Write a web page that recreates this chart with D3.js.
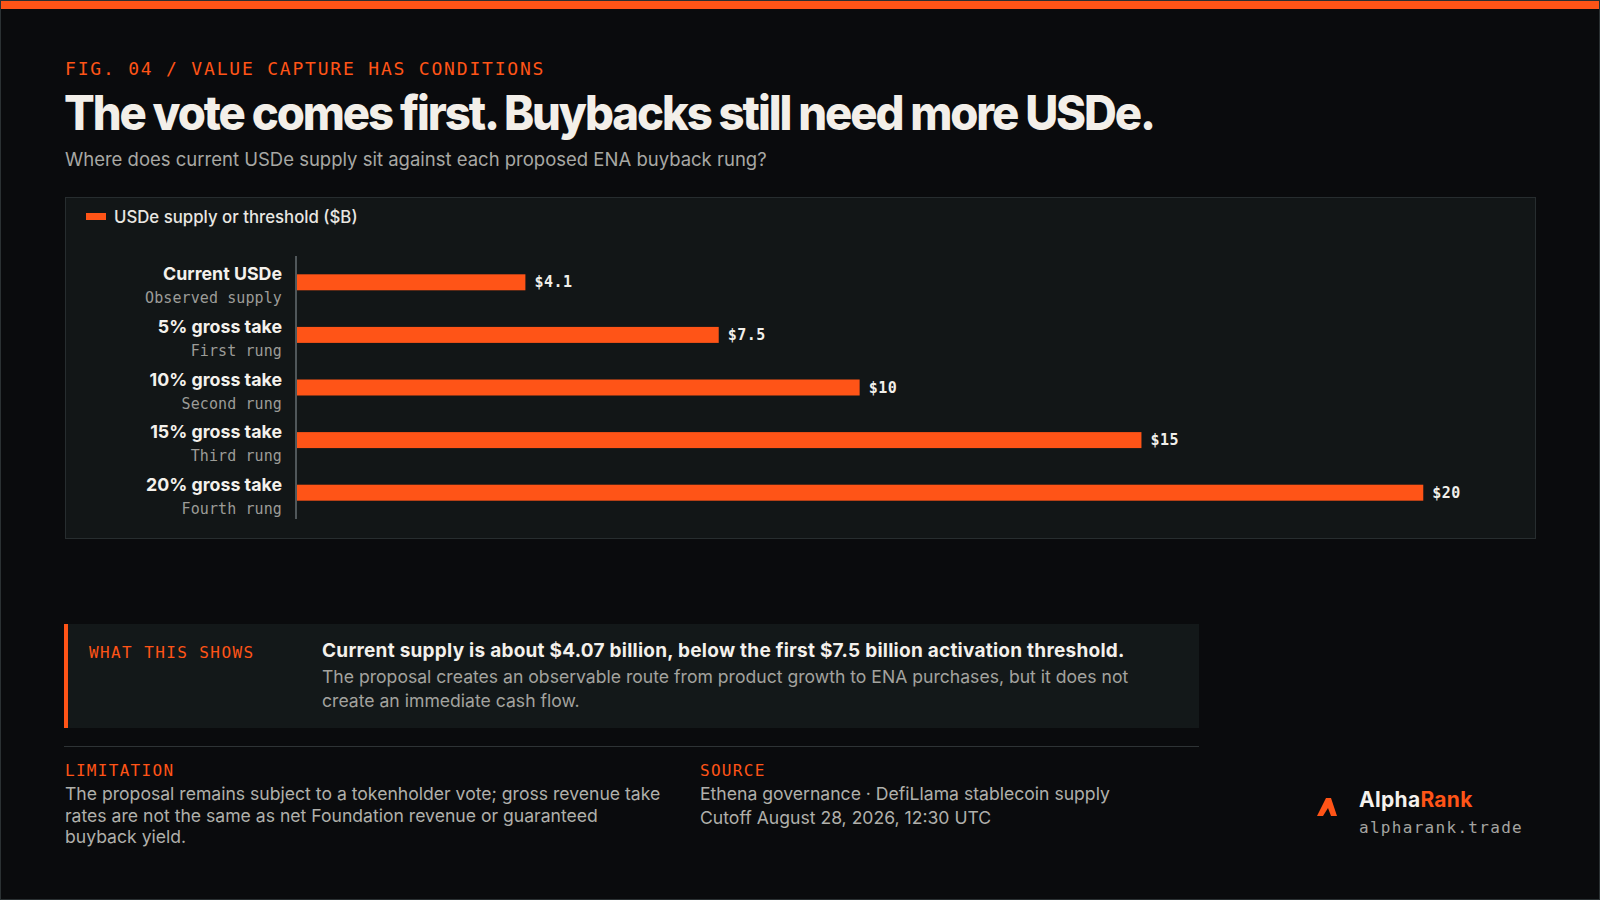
<!DOCTYPE html>
<html>
<head>
<meta charset="utf-8">
<script src="https://cdn.jsdelivr.net/npm/d3@7/dist/d3.min.js"></script>
<style>
  html, body { margin: 0; padding: 0; background: #0a0b0d; }
  svg { display: block; }
  .sans { font-family: Inter, "Noto Sans", sans-serif; }
  .mono { font-family: "DejaVu Sans Mono", "Liberation Mono", monospace; }
</style>
</head>
<body>
<svg id="chart" width="1600" height="900"></svg>
<script>
// ---- data ----
const categories = ["Current USDe", "5% gross take", "10% gross take", "15% gross take", "20% gross take"];
const subLabels = ["Observed supply", "First rung", "Second rung", "Third rung", "Fourth rung"];
const values = [4.07, 7.5, 10, 15, 20];
const legendLabel = "USDe supply or threshold ($B)";

const eyebrow = "FIG. 04 / VALUE CAPTURE HAS CONDITIONS";
const title = "The vote comes first. Buybacks still need more USDe.";
const subtitle = "Where does current USDe supply sit against each proposed ENA buyback rung?";
const calloutLabel = "WHAT THIS SHOWS";
const calloutHead = "Current supply is about $4.07 billion, below the first $7.5 billion activation threshold.";
const calloutBody = ["The proposal creates an observable route from product growth to ENA purchases, but it does not",
                     "create an immediate cash flow."];
const limitationLabel = "LIMITATION";
const limitationBody = ["The proposal remains subject to a tokenholder vote; gross revenue take",
                        "rates are not the same as net Foundation revenue or guaranteed",
                        "buyback yield."];
const sourceLabel = "SOURCE";
const sourceBody = ["Ethena governance · DefiLlama stablecoin supply", "Cutoff August 28, 2026, 12:30 UTC"];

// ---- styles ----
const ORANGE = "#ff5417";
const BG = "#0a0b0d";
const PANEL = "#121617";

const svg = d3.select("#chart");

svg.append("rect").attr("x", 0.5).attr("y", 0.5).attr("width", 1599).attr("height", 899)
  .attr("fill", BG).attr("stroke", "#2b3133");
svg.append("rect").attr("x", 1).attr("y", 1).attr("width", 1598).attr("height", 8).attr("fill", ORANGE);

// header
svg.append("text").attr("class", "mono").attr("x", 65).attr("y", 75)
  .attr("font-size", 18).attr("letter-spacing", 1.8).attr("fill", ORANGE).text(eyebrow);
const titleEl = svg.append("text").attr("class", "sans").attr("x", 64).attr("y", 130)
  .attr("font-size", 48).attr("font-weight", 800).attr("letter-spacing", -2.2)
  .attr("fill", "#f3efe9").text(title);
titleEl.attr("textLength", 1090).attr("lengthAdjust", "spacingAndGlyphs");
svg.append("text").attr("class", "sans").attr("x", 65).attr("y", 166)
  .attr("font-size", 18.5).attr("fill", "#a8a8a4").text(subtitle);

// panel
svg.append("rect").attr("x", 65.5).attr("y", 197.5).attr("width", 1470).attr("height", 341)
  .attr("fill", PANEL).attr("stroke", "#272d2f");

// legend
svg.append("rect").attr("x", 86).attr("y", 213).attr("width", 20).attr("height", 7).attr("fill", ORANGE);
svg.append("text").attr("class", "sans").attr("x", 114).attr("y", 223)
  .attr("font-size", 16.8).attr("font-weight", 500).attr("fill", "#e9e7e2").text(legendLabel);

// scales
const y = d3.scaleBand().domain(categories).range([256, 519]);
const x = d3.scaleLinear().domain([0, d3.max(values) * 1.1]).range([296, 1536]);
const barH = y.step() * 0.304;
const cy = c => y(c) + y.bandwidth() / 2;

const rows = categories.map((c, i) => ({ cat: c, sub: subLabels[i], v: values[i] }));

// bars
svg.append("g").selectAll("rect").data(rows).join("rect")
  .attr("x", x(0)).attr("y", d => cy(d.cat) - barH / 2)
  .attr("width", d => x(d.v) - x(0)).attr("height", barH)
  .attr("fill", ORANGE);

// axis line
svg.append("line").attr("x1", x(0)).attr("x2", x(0)).attr("y1", y.range()[0]).attr("y2", y.range()[1])
  .attr("stroke", "#50575a").attr("stroke-width", 2);

// value labels
const fmt = v => "$" + (Number.isInteger(v) ? v : d3.format(".1f")(v));
svg.append("g").selectAll("text").data(rows).join("text")
  .attr("class", "mono").attr("x", d => x(d.v) + 9).attr("y", d => cy(d.cat) + 5)
  .attr("font-size", 15).attr("letter-spacing", 0.5).attr("font-weight", 700)
  .attr("fill", "#f1efea").text(d => fmt(d.v));

// category labels
const lg = svg.append("g").selectAll("g").data(rows).join("g");
lg.append("text").attr("class", "sans").attr("x", 282).attr("y", d => cy(d.cat) - 2)
  .attr("text-anchor", "end").attr("font-size", 17.8).attr("font-weight", 700)
  .attr("fill", "#f4f1ec").text(d => d.cat);
lg.append("text").attr("class", "mono").attr("x", 282).attr("y", d => cy(d.cat) + 21)
  .attr("text-anchor", "end").attr("font-size", 15).attr("letter-spacing", 0.1)
  .attr("fill", "#9c9c98").text(d => d.sub);

// callout
svg.append("rect").attr("x", 64).attr("y", 624).attr("width", 1135).attr("height", 104).attr("fill", "#131819");
svg.append("rect").attr("x", 64).attr("y", 624).attr("width", 4).attr("height", 104).attr("fill", ORANGE);
svg.append("text").attr("class", "mono").attr("x", 89).attr("y", 658)
  .attr("font-size", 16).attr("letter-spacing", 1.4).attr("fill", ORANGE).text(calloutLabel);
svg.append("text").attr("class", "sans").attr("x", 322).attr("y", 657)
  .attr("font-size", 19).attr("font-weight", 700).attr("letter-spacing", 0.25)
  .attr("fill", "#f4f1ec").text(calloutHead);
svg.append("g").selectAll("text").data(calloutBody).join("text")
  .attr("class", "sans").attr("x", 322).attr("y", (d, i) => 683 + i * 24)
  .attr("font-size", 17.6).attr("fill", "#a3a39f").text(d => d);

// divider
svg.append("line").attr("x1", 64).attr("x2", 1199).attr("y1", 746.5).attr("y2", 746.5)
  .attr("stroke", "#2e3335").attr("stroke-width", 1);

// limitation
svg.append("text").attr("class", "mono").attr("x", 65).attr("y", 776)
  .attr("font-size", 16).attr("letter-spacing", 1.3).attr("fill", ORANGE).text(limitationLabel);
svg.append("g").selectAll("text").data(limitationBody).join("text")
  .attr("class", "sans").attr("x", 65).attr("y", (d, i) => 800 + i * 21.5)
  .attr("font-size", 17.6).attr("fill", "#b0b0ab").text(d => d);

// source
svg.append("text").attr("class", "mono").attr("x", 700).attr("y", 776)
  .attr("font-size", 16).attr("letter-spacing", 1.3).attr("fill", ORANGE).text(sourceLabel);
svg.append("g").selectAll("text").data(sourceBody).join("text")
  .attr("class", "sans").attr("x", 700).attr("y", (d, i) => 800 + i * 24)
  .attr("font-size", 17.6).attr("fill", "#b0b0ab").text(d => d);

// logo
svg.append("path")
  .attr("d", "M1317,816 L1326,798 L1331,798 L1337,816 L1331,816 L1328,808 L1323,816 Z")
  .attr("fill", ORANGE);
const brand = svg.append("text").attr("class", "sans").attr("x", 1359).attr("y", 807)
  .attr("font-size", 21).attr("font-weight", 700).attr("letter-spacing", 0.3);
brand.append("tspan").attr("fill", "#f4f1ec").text("Alpha");
brand.append("tspan").attr("fill", ORANGE).text("Rank");
svg.append("text").attr("class", "mono").attr("x", 1359).attr("y", 833)
  .attr("font-size", 16).attr("letter-spacing", 1.3).attr("fill", "#a5a5a1").text("alpharank.trade");
</script>
</body>
</html>
